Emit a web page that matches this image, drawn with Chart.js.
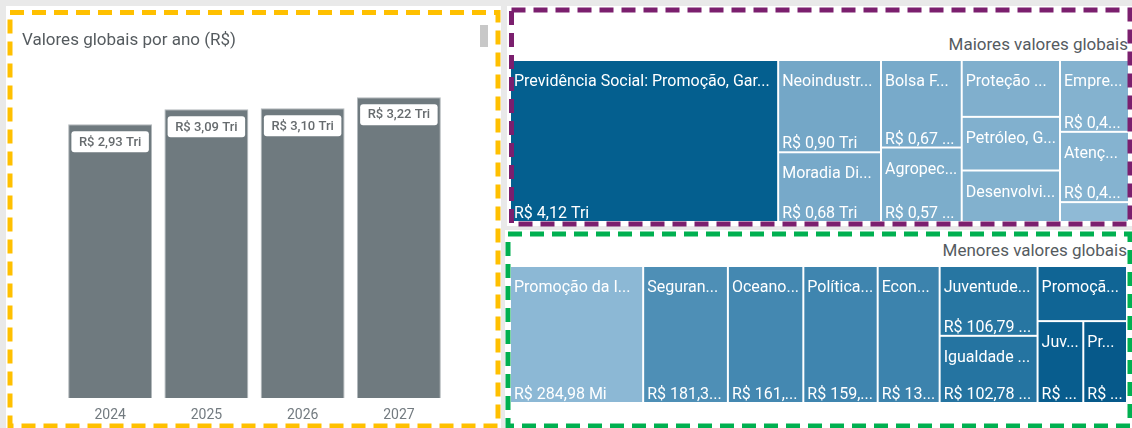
<!DOCTYPE html>
<html>
<head>
<meta charset="utf-8">
<script src="https://cdn.jsdelivr.net/npm/chart.js@4.4.1/dist/chart.umd.min.js"></script>
<style>
  html, body { margin: 0; padding: 0; }
  body { width: 1132px; height: 428px; background: #e9e9e9; position: relative; overflow: hidden; font-family: Roboto, sans-serif; }
  .panel { position: absolute; background: #fff; }
  .box { position: absolute; }
  .title { position: absolute; font-size: 17px; line-height: 20px; color: #555b5f; white-space: nowrap; }
  #scroll { position: absolute; left: 480px; top: 25px; width: 8px; height: 22px; background: #c8c8c8; }
  svg { position: absolute; left: 0; top: 0; pointer-events: none; }
</style>
</head>
<body>
<div class="panel" style="left:6px;top:6px;width:495px;height:422px"></div>
<div class="panel" style="left:507px;top:6px;width:625px;height:220px"></div>
<div class="panel" style="left:505px;top:230px;width:627px;height:198px"></div>

<div class="box" style="left:0;top:0;width:500px;height:428px"><canvas id="barChart"></canvas></div>
<div class="box" style="left:510px;top:60px;width:619px;height:162px"><canvas id="topMap"></canvas></div>
<div class="box" style="left:510px;top:266px;width:617px;height:137px"><canvas id="bottomMap"></canvas></div>

<div class="title" style="left:22px;top:28.5px">Valores globais por ano (R$)</div>
<div class="title" style="right:4px;top:33.5px">Maiores valores globais</div>
<div class="title" style="right:5px;top:239.5px">Menores valores globais</div>
<div id="scroll"></div>

<svg width="1132" height="428">
  <rect x="10" y="12.5" width="488" height="413.5" fill="none" stroke="#ffc000" stroke-width="5" stroke-dasharray="14 8"/>
  <rect x="511.5" y="10" width="618.5" height="214" fill="none" stroke="#7b1f6e" stroke-width="5" stroke-dasharray="14 8"/>
  <rect x="508" y="234" width="622" height="192" fill="none" stroke="#00b050" stroke-width="5" stroke-dasharray="14 8"/>
</svg>

<script>
// valores globais por ano (R$ trilhões)
const years = ['2024', '2025', '2026', '2027'];
const yearTotals = [2.93, 3.09, 3.10, 3.22];

// maiores valores globais (R$ trilhões)
const topLabels = ['Previdência Social: Promoção, Gar...', 'Neoindustri...', 'Moradia Di...', 'Bolsa Fa...', 'Agropec...',
  'Proteção S...', 'Petróleo, G...', 'Desenvolvi...', 'Empre...', 'Atençã...', 'Outros'];
const topValues = [4.12, 0.90, 0.68, 0.67, 0.57, 0.53, 0.50, 0.48, 0.47, 0.46, 0.13];
const topStrips = [1, 2, 2, 3, 1, 1, 1];
const topColors = ['#045f8f', '#74a7c7', '#77a9c9', '#78aaca', '#7cadcb', '#80afcd', '#81b0ce', '#82b1ce', '#84b2cf', '#85b3d0', '#8fbad6'];

// menores valores globais (R$ milhões)
const bottomLabels = ['Promoção da Ig...', 'Seguran...', 'Oceano,...', 'Política...', 'Econo...',
  'Juventude:...', 'Igualdade ...', 'Promoçã...', 'Juv...', 'Pr...'];
const bottomValues = [284.98, 181.32, 161.45, 159.10, 132.60, 106.79, 102.78, 77.0, 58.5, 55.9];
const bottomStrips = [1, 1, 1, 1, 1, 2, 1, 1, 1];
const bottomColors = ['#8cb8d5', '#4e8fb6', '#4488b1', '#3f85af', '#3c83ad', '#2776a2', '#2574a1', '#106595', '#085d8e', '#06598a'];

const FONT = 'Roboto, sans-serif';

function fitText(ctx, text, maxW) {
    if (ctx.measureText(text).width <= maxW) return text;
    let base = text.replace(/\.\.\.$/, '');
    while (base.length && ctx.measureText(base + '...').width > maxW) {
        base = base.slice(0, -1);
    }
    return base.length ? base + '...' : '';
}

function formatBRL(v, unit) {
    return 'R$ ' + v.toFixed(2).replace('.', ',') + ' ' + unit;
}

// strips laid along the short side of what is left, like a squarified treemap
function stripLayout(values, strips, W, H) {
    let x0 = 0, y0 = 0, x1 = 1, y1 = 1;
    let rest = values.reduce((a, b) => a + b, 0);
    let i = 0;
    const rects = [];
    strips.forEach(n => {
        const group = values.slice(i, i + n);
        const s = group.reduce((a, b) => a + b, 0);
        if ((x1 - x0) * W >= (y1 - y0) * H) {
            const w = (x1 - x0) * s / rest;
            let yy = y0;
            group.forEach(v => {
                const h = (y1 - y0) * v / s;
                rects.push([x0, yy, x0 + w, yy + h]);
                yy += h;
            });
            x0 += w;
        } else {
            const h = (y1 - y0) * s / rest;
            let xx = x0;
            group.forEach(v => {
                const w = (x1 - x0) * v / s;
                rects.push([xx, y0, xx + w, y0 + h]);
                xx += w;
            });
            y0 += h;
        }
        rest -= s;
        i += n;
    });
    return rects;
}

function treemapPlugin(labels, values, strips, colors, unit) {
    return {
        id: 'treemapCells',
        afterDatasetsDraw(chart) {
            const ctx = chart.ctx;
            const xs = chart.scales.x, ys = chart.scales.y;
            const area = chart.chartArea;
            const rects = stripLayout(values, strips, area.right - area.left, area.bottom - area.top);
            ctx.save();
            ctx.font = '16px ' + FONT;
            ctx.textBaseline = 'alphabetic';
            rects.forEach((r, i) => {
                const px0 = xs.getPixelForValue(r[0]), px1 = xs.getPixelForValue(r[2]);
                const py0 = ys.getPixelForValue(r[1]), py1 = ys.getPixelForValue(r[3]);
                const w = px1 - px0, h = py1 - py0;
                ctx.fillStyle = colors[i];
                ctx.fillRect(px0 + 1, py0 + 1, w - 2, h - 2);
                ctx.fillStyle = '#ffffff';
                if (h >= 30 && w >= 30) {
                    ctx.fillText(fitText(ctx, labels[i], w - 8), px0 + 4, py0 + 26);
                }
                if (h >= 62 && w >= 30) {
                    ctx.fillText(fitText(ctx, formatBRL(values[i], unit), w - 8), px0 + 4, py1 - 4);
                }
            });
            ctx.restore();
        }
    };
}

function createTreemap(id, labels, values, strips, colors, unit) {
    return new Chart(document.getElementById(id), {
        type: 'scatter',
        data: { datasets: [{ data: [] }] },
        options: {
            responsive: true,
            maintainAspectRatio: false,
            animation: false,
            layout: { padding: 0 },
            scales: {
                x: { type: 'linear', min: 0, max: 1, display: false },
                y: { type: 'linear', min: 0, max: 1, reverse: true, display: false }
            },
            plugins: {
                legend: { display: false },
                tooltip: { enabled: false }
            }
        },
        plugins: [treemapPlugin(labels, values, strips, colors, unit)]
    });
}

const barLabels = {
    id: 'barLabels',
    afterDatasetsDraw(chart) {
        const ctx = chart.ctx;
        const meta = chart.getDatasetMeta(0);
        ctx.save();
        ctx.font = '500 13px ' + FONT;
        ctx.textAlign = 'center';
        ctx.textBaseline = 'middle';
        meta.data.forEach((bar, i) => {
            const text = formatBRL(chart.data.datasets[0].data[i], 'Tri');
            const tw = ctx.measureText(text).width + 15;
            const top = bar.y + 7;
            ctx.fillStyle = '#ffffff';
            ctx.beginPath();
            ctx.roundRect(bar.x - tw / 2, top, tw, 21, 3);
            ctx.fill();
            ctx.fillStyle = '#666b6e';
            ctx.fillText(text, bar.x, top + 11);
        });
        ctx.restore();
    }
};

new Chart(document.getElementById('barChart'), {
    type: 'bar',
    data: {
        labels: years,
        datasets: [{
            data: yearTotals,
            backgroundColor: '#6f7a7f',
            borderColor: '#b3b9bc',
            borderWidth: 1,
            barPercentage: 0.872,
            categoryPercentage: 1
        }]
    },
    options: {
        responsive: true,
        maintainAspectRatio: false,
        animation: false,
        layout: { padding: { left: 62, right: 53, top: 71, bottom: 6 } },
        scales: {
            x: {
                grid: { display: false, drawTicks: false },
                border: { display: false },
                ticks: { color: '#737b80', font: { family: FONT, size: 14 }, padding: 9 },
                afterFit(scale) { scale.height = 24; }
            },
            y: { display: false, min: 0, max: 3.5 }
        },
        plugins: {
            legend: { display: false },
            tooltip: { enabled: false }
        }
    },
    plugins: [barLabels]
});

createTreemap('topMap', topLabels, topValues, topStrips, topColors, 'Tri');
createTreemap('bottomMap', bottomLabels, bottomValues, bottomStrips, bottomColors, 'Mi');
</script>
</body>
</html>
